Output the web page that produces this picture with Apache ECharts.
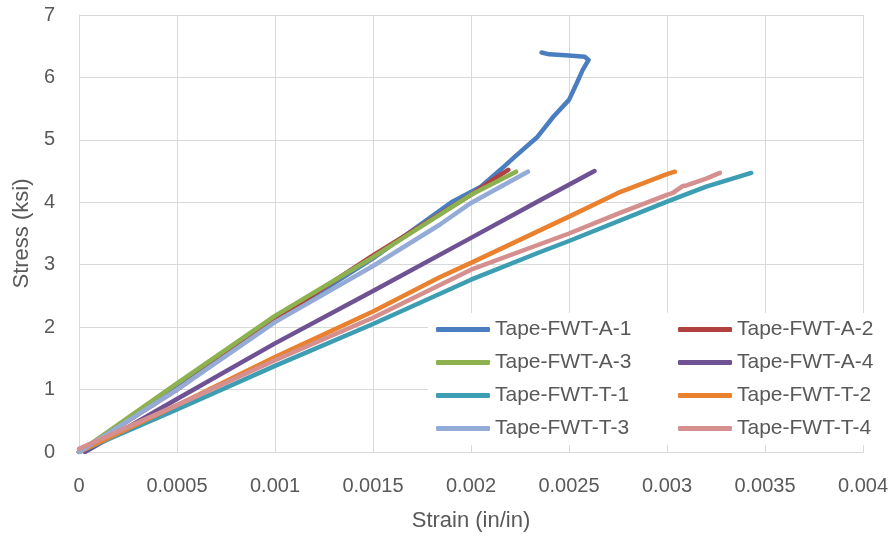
<!DOCTYPE html>
<html>
<head>
<meta charset="utf-8">
<script src="https://cdn.jsdelivr.net/npm/echarts@6/dist/echarts.min.js"></script>
<style>html,body{margin:0;padding:0;background:#fff}#c{width:893px;height:537px}</style>
</head>
<body>
<div id="c"></div>
<script>
// [strain (in/in), stress (ksi)]
const seriesNames = ['Tape-FWT-A-1','Tape-FWT-A-2','Tape-FWT-A-3','Tape-FWT-A-4','Tape-FWT-T-1','Tape-FWT-T-2','Tape-FWT-T-3','Tape-FWT-T-4'];
const A1 = [[0,0],[0.0005,1.05],[0.001,2.1],[0.0015,3.1],[0.0019,4.0],[0.00205,4.25],[0.00215,4.52],[0.00222,4.72],[0.00234,5.05],[0.00242,5.37],[0.0025,5.64],[0.00254,5.91],[0.00257,6.12],[0.0026,6.28],[0.00258,6.33],[0.0025,6.35],[0.0024,6.37],[0.00236,6.40]];
const A2 = [[0,0],[0.0005,1.0],[0.001,2.12],[0.0015,3.15],[0.002,4.12],[0.00212,4.38],[0.00219,4.52]];
const A3 = [[0,0],[0.0005,1.1],[0.001,2.18],[0.0015,3.12],[0.002,4.12],[0.00223,4.49]];
const A4 = [[0.00003,0],[0.0005,0.85],[0.001,1.74],[0.0015,2.58],[0.002,3.43],[0.00235,4.03],[0.00263,4.5]];
const T1 = [[0,0],[0.0005,0.68],[0.001,1.38],[0.0015,2.05],[0.002,2.76],[0.00235,3.2],[0.0025,3.38],[0.003,4.01],[0.0032,4.25],[0.00343,4.47]];
const T2 = [[0,0],[0.0005,0.75],[0.001,1.52],[0.0015,2.25],[0.00184,2.80],[0.002,3.03],[0.0025,3.77],[0.00275,4.15],[0.003,4.45],[0.00304,4.49]];
const T3 = [[0,0],[0.0005,1.0],[0.001,2.08],[0.0015,2.98],[0.00184,3.64],[0.002,3.99],[0.00229,4.49]];
const T4 = [[0,0.05],[0.0005,0.75],[0.001,1.47],[0.0015,2.15],[0.002,2.92],[0.0025,3.5],[0.00276,3.83],[0.0029,4.0],[0.003,4.12],[0.00303,4.15],[0.00308,4.26],[0.0031,4.27],[0.0032,4.38],[0.00327,4.47]];
const seriesData = [A1,A2,A3,A4,T1,T2,T3,T4];
const colors = ['#4A7EC1','#B0413E','#8DB14E','#6E5294','#3C9DB3','#E9812F','#93ABD6','#D48F8E'];

const FONT = 'Liberation Sans, Arial, sans-serif';
const chart = echarts.init(document.getElementById('c'), null, {renderer:'canvas'});
const legendCommon = {
  orient:'vertical', padding:0, itemGap:12, itemWidth:54, itemHeight:5, icon:'roundRect',
  textStyle:{color:'#595959', fontSize:21, fontFamily:FONT}, selectedMode:false, z:5
};
chart.setOption({
  animation:false,
  color: colors,
  grid:{left:79, right:30, top:15, bottom:85, containLabel:false},
  xAxis:{
    type:'value', min:0, max:0.004, interval:0.0005,
    name:'Strain (in/in)', nameLocation:'middle', nameGap:58,
    nameTextStyle:{color:'#595959', fontSize:22, fontFamily:FONT},
    axisLine:{show:true, lineStyle:{color:'#d9d9d9', width:1}},
    axisTick:{show:false},
    axisLabel:{color:'#595959', fontSize:20, fontFamily:FONT, margin:24, formatter:v=>String(+v.toFixed(4))},
    splitLine:{show:true, lineStyle:{color:'#d9d9d9', width:1}}
  },
  yAxis:{
    type:'value', min:0, max:7, interval:1,
    name:'Stress (ksi)', nameLocation:'middle', nameGap:46,
    nameTextStyle:{color:'#595959', fontSize:22, fontFamily:FONT},
    axisLine:{show:true, lineStyle:{color:'#d9d9d9', width:1}},
    axisTick:{show:false},
    axisLabel:{color:'#595959', fontSize:20, fontFamily:FONT, margin:24},
    splitLine:{show:true, lineStyle:{color:'#d9d9d9', width:1}}
  },
  graphic:{elements:[{type:'rect', shape:{x:428, y:313, width:465, height:132}, style:{fill:'#fff'}, z:4}]},
  legend:[
    Object.assign({left:436, top:319, data:[seriesNames[0],seriesNames[2],seriesNames[4],seriesNames[6]]}, legendCommon),
    Object.assign({left:678, top:319, data:[seriesNames[1],seriesNames[3],seriesNames[5],seriesNames[7]]}, legendCommon)
  ],
  series: seriesData.map((d,i)=>({
    name: seriesNames[i], type:'line', data:d, showSymbol:false, symbol:'none',
    lineStyle:{width:4.5, cap:'round', join:'round', color:colors[i]},
    itemStyle:{color:colors[i]}
  }))
});
</script>
</body>
</html>
